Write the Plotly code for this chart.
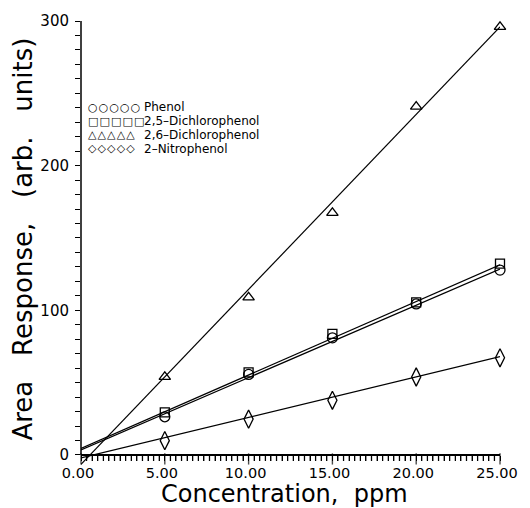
import plotly.graph_objects as go

# ---- data ----
conc = [5, 10, 15, 20, 25]
phenol = [26.4, 55.7, 81.0, 104.4, 127.8]
dcp25 = [29.4, 57.1, 83.7, 105.5, 132.3]
dcp26 = [54.0, 109.0, 167.4, 240.8, 296.0]
nitro = [9.9, 24.8, 37.8, 53.9, 67.2]

fit_x = [0, 25]
phenol_fit = [3.5, 128.5]
dcp25_fit = [4.5, 131.5]
dcp26_fit = [-6.5, 296.0]
nitro_fit = [-2.0, 68.0]

names = ["Phenol", "2,5\u2013Dichlorophenol", "2,6\u2013Dichlorophenol", "2\u2013Nitrophenol"]
legend_symbols = ["\u25CB", "\u25A1", "\u25B3", "\u25C7"]

# tick layout: labelled every 5 ppm / 100 units, minor marks every 1/3 ppm / 10 units
x_major, x_minor_per_major, x_n_major = 5, 15, 5
y_major, y_minor_per_major, y_n_major = 100, 10, 3

W, H = 530, 508
ML, MR, MT, MB = 81, 19, 19, 40
YMIN, YMAX = -9, 300.001
XMAX = 25.0001
MAJOR_LEN, MINOR_LEN = 8, 5

FONT = "DejaVu Sans"
fig = go.Figure()

series = [
    (phenol, phenol_fit, "circle-open", 10),
    (dcp25, dcp25_fit, "square-open", 9),
    (dcp26, dcp26_fit, "triangle-up-open", 10),
    (nitro, nitro_fit, "diamond-tall-open", 13),
]
for (vals, fit, sym, size), nm in zip(series, names):
    fig.add_trace(go.Scatter(x=fit_x, y=fit, mode="lines",
                             line=dict(color="black", width=1.2),
                             showlegend=False, hoverinfo="skip"))
    fig.add_trace(go.Scatter(x=conc, y=vals, mode="markers", name=nm,
                             marker=dict(symbol=sym, size=size, color="black",
                                         line=dict(color="black", width=1.3)),
                             cliponaxis=False, showlegend=False))

# tick positions (all ticks; labels only on the major ones)
x_tickvals, x_ticktext = [], []
for i in range(0, x_n_major * x_minor_per_major + 1):
    v = i * x_major / x_minor_per_major
    x_tickvals.append(v)
    x_ticktext.append(f"{v:.2f}" if i % x_minor_per_major == 0 else "")
y_tickvals, y_ticktext = [], []
for i in range(0, y_n_major * y_minor_per_major + 1):
    v = i * y_major / y_minor_per_major
    y_tickvals.append(v)
    y_ticktext.append(f"{v:.0f}" if i % y_minor_per_major == 0 else "")

pw = W - ML - MR
ph = H - MT - MB
px_per_x = pw / XMAX
px_per_y = ph / (YMAX - YMIN)

# tick marks as short line markers hanging outside the axes
x_len = [MAJOR_LEN if t else MINOR_LEN for t in x_ticktext]
fig.add_trace(go.Scatter(x=x_tickvals, y=[-(L / 2) / px_per_y for L in x_len],
                         mode="markers", cliponaxis=False, showlegend=False,
                         hoverinfo="skip",
                         marker=dict(symbol="line-ns-open", size=x_len, color="black",
                                     line=dict(color="black", width=1.4))))
y_len = [MAJOR_LEN if t else MINOR_LEN for t in y_ticktext]
fig.add_trace(go.Scatter(x=[-(L / 2) / px_per_x for L in y_len], y=y_tickvals,
                         mode="markers", cliponaxis=False, showlegend=False,
                         hoverinfo="skip",
                         marker=dict(symbol="line-ew-open", size=y_len, color="black",
                                     line=dict(color="black", width=1.4))))

def px2paper_x(px):
    return (px - ML) / pw
def px2paper_y(py):
    return (H - MB - py) / ph

# legend drawn as text
rows_y = [105.5, 119.5, 133.5, 147.5]
for sym, nm, ry in zip(legend_symbols, names, rows_y):
    fig.add_annotation(xref="paper", yref="paper", x=px2paper_x(87), y=px2paper_y(ry),
                       text="\u200a".join([sym] * 5), showarrow=False,
                       xanchor="left", yanchor="middle", borderpad=0,
                       font=dict(family=FONT, size=11, color="black"))
    fig.add_annotation(xref="paper", yref="paper", x=px2paper_x(145), y=px2paper_y(ry),
                       text=nm, showarrow=False, xanchor="left", yanchor="middle",
                       borderpad=0,
                       font=dict(family=FONT, size=12, color="black"))

# axis titles
fig.add_annotation(xref="paper", yref="paper", x=px2paper_x(290), y=px2paper_y(494.5),
                   text="Concentration,\u00a0 ppm", showarrow=False,
                   xanchor="center", yanchor="middle", borderpad=0,
                   font=dict(family=FONT, size=24, color="black"))
fig.add_annotation(xref="paper", yref="paper", x=px2paper_x(22), y=px2paper_y(238),
                   text="Area\u00a0\u00a0 Response,\u00a0\u00a0 (arb.\u00a0\u00a0 units)",
                   showarrow=False,
                   textangle=-90, xanchor="center", yanchor="middle", borderpad=0,
                   font=dict(family=FONT, size=26, color="black"))

# y axis line from 0 to 300 only
fig.add_shape(type="line", xref="paper", yref="y", x0=0, x1=0, y0=0, y1=300,
              line=dict(color="black", width=1.5))

xpos = (0 - YMIN) / (YMAX - YMIN)
fig.update_layout(
    width=W, height=H,
    margin=dict(l=ML, r=MR, t=MT, b=MB),
    plot_bgcolor="white", paper_bgcolor="white",
    showlegend=False,
    xaxis=dict(range=[0, XMAX], anchor="free", position=xpos,
               tickmode="array", tickvals=x_tickvals, ticktext=x_ticktext,
               ticks="outside", ticklen=5, tickwidth=1.2, tickcolor="black",
               ticklabeloverflow="allow", ticklabelshift=-3,
               showline=True, linecolor="black", linewidth=1.5,
               showgrid=False, zeroline=False,
               tickfont=dict(family=FONT, size=14.5, color="black")),
    yaxis=dict(range=[YMIN, YMAX],
               tickmode="array", tickvals=y_tickvals, ticktext=y_ticktext,
               ticks="outside", ticklen=5, tickwidth=1.2, tickcolor="black",
               ticklabelstandoff=3,
               showline=False, showgrid=False, zeroline=False,
               tickfont=dict(family=FONT, size=15, color="black")),
)

fig.write_html("out.html")
